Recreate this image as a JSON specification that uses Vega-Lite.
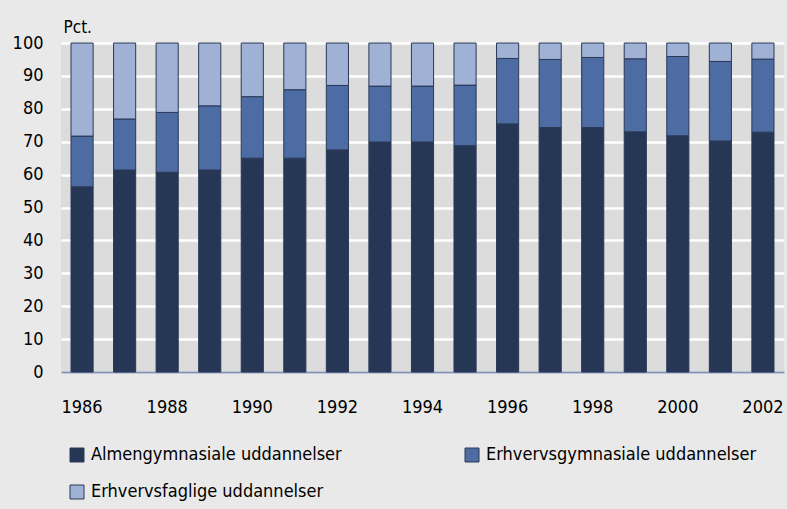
{
  "$schema": "https://vega.github.io/schema/vega-lite/v6.json",
  "width": 723,
  "height": 329,
  "autosize": {"type": "none"},
  "padding": {"left": 61, "top": 43, "right": 3, "bottom": 137},
  "background": "#e9e9e9",
  "config": {
    "font": "DejaVu Sans Condensed",
    "view": {"fill": "#dcdcdc", "stroke": null}
  },
  "data": {
    "values": [
      {"year": 1986, "serie": "Almengymnasiale uddannelser", "rank": 1, "pct": 56.3},
      {"year": 1986, "serie": "Erhvervsgymnasiale uddannelser", "rank": 2, "pct": 15.4},
      {"year": 1986, "serie": "Erhvervsfaglige uddannelser", "rank": 3, "pct": 28.3},
      {"year": 1987, "serie": "Almengymnasiale uddannelser", "rank": 1, "pct": 61.4},
      {"year": 1987, "serie": "Erhvervsgymnasiale uddannelser", "rank": 2, "pct": 15.5},
      {"year": 1987, "serie": "Erhvervsfaglige uddannelser", "rank": 3, "pct": 23.1},
      {"year": 1988, "serie": "Almengymnasiale uddannelser", "rank": 1, "pct": 60.7},
      {"year": 1988, "serie": "Erhvervsgymnasiale uddannelser", "rank": 2, "pct": 18.2},
      {"year": 1988, "serie": "Erhvervsfaglige uddannelser", "rank": 3, "pct": 21.1},
      {"year": 1989, "serie": "Almengymnasiale uddannelser", "rank": 1, "pct": 61.4},
      {"year": 1989, "serie": "Erhvervsgymnasiale uddannelser", "rank": 2, "pct": 19.5},
      {"year": 1989, "serie": "Erhvervsfaglige uddannelser", "rank": 3, "pct": 19.1},
      {"year": 1990, "serie": "Almengymnasiale uddannelser", "rank": 1, "pct": 65.0},
      {"year": 1990, "serie": "Erhvervsgymnasiale uddannelser", "rank": 2, "pct": 18.7},
      {"year": 1990, "serie": "Erhvervsfaglige uddannelser", "rank": 3, "pct": 16.3},
      {"year": 1991, "serie": "Almengymnasiale uddannelser", "rank": 1, "pct": 65.0},
      {"year": 1991, "serie": "Erhvervsgymnasiale uddannelser", "rank": 2, "pct": 20.8},
      {"year": 1991, "serie": "Erhvervsfaglige uddannelser", "rank": 3, "pct": 14.2},
      {"year": 1992, "serie": "Almengymnasiale uddannelser", "rank": 1, "pct": 67.5},
      {"year": 1992, "serie": "Erhvervsgymnasiale uddannelser", "rank": 2, "pct": 19.6},
      {"year": 1992, "serie": "Erhvervsfaglige uddannelser", "rank": 3, "pct": 12.9},
      {"year": 1993, "serie": "Almengymnasiale uddannelser", "rank": 1, "pct": 69.9},
      {"year": 1993, "serie": "Erhvervsgymnasiale uddannelser", "rank": 2, "pct": 17.0},
      {"year": 1993, "serie": "Erhvervsfaglige uddannelser", "rank": 3, "pct": 13.1},
      {"year": 1994, "serie": "Almengymnasiale uddannelser", "rank": 1, "pct": 69.9},
      {"year": 1994, "serie": "Erhvervsgymnasiale uddannelser", "rank": 2, "pct": 17.0},
      {"year": 1994, "serie": "Erhvervsfaglige uddannelser", "rank": 3, "pct": 13.1},
      {"year": 1995, "serie": "Almengymnasiale uddannelser", "rank": 1, "pct": 68.8},
      {"year": 1995, "serie": "Erhvervsgymnasiale uddannelser", "rank": 2, "pct": 18.4},
      {"year": 1995, "serie": "Erhvervsfaglige uddannelser", "rank": 3, "pct": 12.8},
      {"year": 1996, "serie": "Almengymnasiale uddannelser", "rank": 1, "pct": 75.4},
      {"year": 1996, "serie": "Erhvervsgymnasiale uddannelser", "rank": 2, "pct": 19.9},
      {"year": 1996, "serie": "Erhvervsfaglige uddannelser", "rank": 3, "pct": 4.7},
      {"year": 1997, "serie": "Almengymnasiale uddannelser", "rank": 1, "pct": 74.3},
      {"year": 1997, "serie": "Erhvervsgymnasiale uddannelser", "rank": 2, "pct": 20.7},
      {"year": 1997, "serie": "Erhvervsfaglige uddannelser", "rank": 3, "pct": 5.0},
      {"year": 1998, "serie": "Almengymnasiale uddannelser", "rank": 1, "pct": 74.3},
      {"year": 1998, "serie": "Erhvervsgymnasiale uddannelser", "rank": 2, "pct": 21.3},
      {"year": 1998, "serie": "Erhvervsfaglige uddannelser", "rank": 3, "pct": 4.4},
      {"year": 1999, "serie": "Almengymnasiale uddannelser", "rank": 1, "pct": 73.0},
      {"year": 1999, "serie": "Erhvervsgymnasiale uddannelser", "rank": 2, "pct": 22.2},
      {"year": 1999, "serie": "Erhvervsfaglige uddannelser", "rank": 3, "pct": 4.8},
      {"year": 2000, "serie": "Almengymnasiale uddannelser", "rank": 1, "pct": 71.8},
      {"year": 2000, "serie": "Erhvervsgymnasiale uddannelser", "rank": 2, "pct": 24.1},
      {"year": 2000, "serie": "Erhvervsfaglige uddannelser", "rank": 3, "pct": 4.1},
      {"year": 2001, "serie": "Almengymnasiale uddannelser", "rank": 1, "pct": 70.2},
      {"year": 2001, "serie": "Erhvervsgymnasiale uddannelser", "rank": 2, "pct": 24.2},
      {"year": 2001, "serie": "Erhvervsfaglige uddannelser", "rank": 3, "pct": 5.6},
      {"year": 2002, "serie": "Almengymnasiale uddannelser", "rank": 1, "pct": 72.9},
      {"year": 2002, "serie": "Erhvervsgymnasiale uddannelser", "rank": 2, "pct": 22.2},
      {"year": 2002, "serie": "Erhvervsfaglige uddannelser", "rank": 3, "pct": 4.9}
    ]
  },
  "mark": {"type": "bar", "stroke": "#2b3856", "strokeWidth": 1},
  "encoding": {
    "x": {
      "field": "year",
      "type": "ordinal",
      "scale": {"paddingInner": 0.48, "paddingOuter": 0.235},
      "axis": {
        "title": null,
        "values": [1986, 1988, 1990, 1992, 1994, 1996, 1998, 2000, 2002],
        "labelAngle": 0,
        "labelFontSize": 18,
        "labelColor": "#000000",
        "labelPadding": 26,
        "ticks": false,
        "domainColor": "#8391b3",
        "domainWidth": 2,
        "grid": false
      }
    },
    "y": {
      "field": "pct",
      "type": "quantitative",
      "stack": "zero",
      "scale": {"domain": [0, 100], "nice": false},
      "axis": {
        "title": "Pct.",
        "titleAngle": 0,
        "titleAlign": "left",
        "titleBaseline": "alphabetic",
        "titleX": 2,
        "titleY": -11,
        "titleFontSize": 17,
        "titleFontWeight": "normal",
        "titleColor": "#000000",
        "values": [0, 10, 20, 30, 40, 50, 60, 70, 80, 90, 100],
        "labelFontSize": 18,
        "labelColor": "#000000",
        "labelPadding": 18,
        "ticks": false,
        "domain": false,
        "grid": true,
        "gridColor": "#ffffff",
        "gridWidth": 2.5
      }
    },
    "color": {
      "field": "serie",
      "type": "nominal",
      "scale": {
        "domain": ["Almengymnasiale uddannelser", "Erhvervsgymnasiale uddannelser", "Erhvervsfaglige uddannelser"],
        "range": ["#263655", "#4c6ca3", "#9fb1d5"]
      },
      "legend": {
        "title": null,
        "orient": "none",
        "direction": "horizontal",
        "legendX": 7,
        "legendY": 403,
        "columns": 2,
        "columnPadding": 121,
        "rowPadding": 19,
        "padding": 0,
        "symbolType": "square",
        "symbolSize": 196,
        "symbolStrokeColor": "#2b3856",
        "symbolStrokeWidth": 1,
        "labelFontSize": 18,
        "labelColor": "#000000",
        "labelOffset": 5,
        "labelLimit": 400
      }
    },
    "order": {"field": "rank", "type": "quantitative"}
  }
}
